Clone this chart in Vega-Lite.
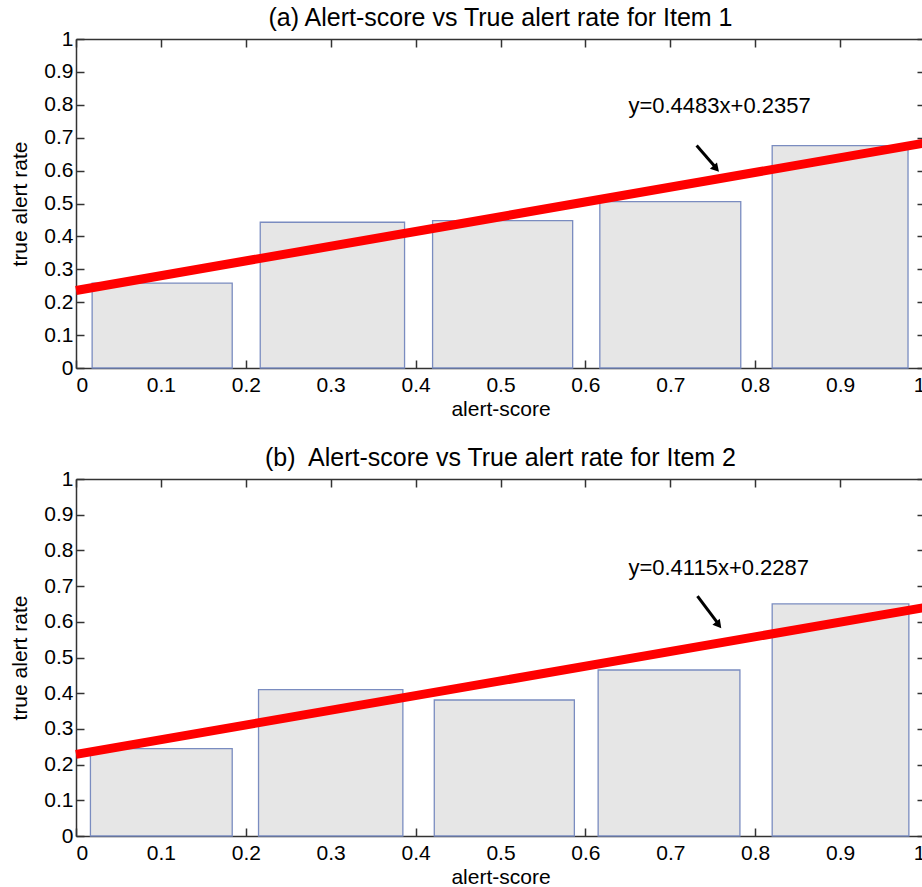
{
  "$schema": "https://vega.github.io/schema/vega-lite/v6.json",
  "background": "white",
  "padding": {"left": 9, "top": 6, "right": 0, "bottom": 0},
  "config": {
    "font": "Liberation Sans",
    "view": {"stroke": null},
    "axis": {
      "domainColor": "#333333", "tickColor": "#333333", "domainWidth": 1.5, "tickWidth": 1.5,
      "labelColor": "black", "titleColor": "black",
      "labelFont": "Liberation Sans", "titleFont": "Liberation Sans",
      "labelFontSize": 21, "titleFontSize": 21, "titleFontWeight": "normal",
      "grid": false, "tickSize": -8
    },
    "title": {"fontSize": 25, "fontWeight": "normal", "color": "black", "font": "Liberation Sans", "offset": -3, "frame": "group"},
    "concat": {"spacing": 27}
  },
  "vconcat": [
    {
      "width": 849, "height": 329,
      "title": {"text": "(a) Alert-score vs True alert rate for Item 1"},
      "layer": [
        {
          "encoding": {
            "x": {"field": "x", "type": "quantitative", "scale": {"domain": [0, 1], "nice": false}, "title": "alert-score",
                  "axis": {"orient": "bottom", "values": [0, 0.1, 0.2, 0.3, 0.4, 0.5, 0.6, 0.7, 0.8, 0.9, 1], "format": "~g", "labelPadding": 14, "titlePadding": 3}},
            "y": {"field": "y", "type": "quantitative", "scale": {"domain": [0, 1], "nice": false}, "title": "true alert rate",
                  "axis": {"orient": "left", "values": [0, 0.1, 0.2, 0.3, 0.4, 0.5, 0.6, 0.7, 0.8, 0.9, 1], "format": "~g", "labelPadding": 11, "titlePadding": 13}}
          },
          "layer": [
            {
              "data": {"values": [
                {"x": 0.019, "xe": 0.184, "y": 0.258},
                {"x": 0.217, "xe": 0.387, "y": 0.443},
                {"x": 0.420, "xe": 0.585, "y": 0.448},
                {"x": 0.617, "xe": 0.783, "y": 0.506},
                {"x": 0.820, "xe": 0.980, "y": 0.676}
              ]},
              "mark": {"type": "rect", "fill": "#e6e6e6", "stroke": "#7a8cc0", "strokeWidth": 1.3},
              "encoding": {"x2": {"field": "xe"}, "y2": {"datum": 0}}
            },
            {
              "data": {"values": [{"x": 0.758, "y": 0.795, "label": "y=0.4483x+0.2357"}]},
              "mark": {"type": "text", "fontSize": 22, "color": "black", "align": "center", "baseline": "middle"},
              "encoding": {"text": {"field": "label"}}
            },
            {
              "data": {"values": [{"x": 0.731, "y": 0.676, "xe": 0.754, "ye": 0.608}]},
              "mark": {"type": "rule", "color": "black", "strokeWidth": 3},
              "encoding": {"x2": {"field": "xe"}, "y2": {"field": "ye"}}
            },
            {
              "data": {"values": [{"x": 0.753, "y": 0.609}]},
              "mark": {"type": "point", "shape": "triangle", "filled": true, "color": "black", "opacity": 1, "size": 90, "angle": 138}
            }
          ]
        },
        {
          "data": {"values": [{"x": 0, "y": 0.2357}, {"x": 1, "y": 0.684}]},
          "mark": {"type": "line", "color": "#ff0000", "strokeWidth": 9},
          "encoding": {
            "x": {"field": "x", "type": "quantitative", "scale": {"domain": [0, 1], "nice": false},
                  "axis": {"orient": "top", "labels": false, "title": null, "values": [0, 0.1, 0.2, 0.3, 0.4, 0.5, 0.6, 0.7, 0.8, 0.9, 1]}},
            "y": {"field": "y", "type": "quantitative", "scale": {"domain": [0, 1], "nice": false},
                  "axis": {"orient": "right", "labels": false, "title": null, "values": [0, 0.1, 0.2, 0.3, 0.4, 0.5, 0.6, 0.7, 0.8, 0.9, 1]}}
          }
        }
      ],
      "resolve": {"axis": {"x": "independent", "y": "independent"}}
    },
    {
      "width": 849, "height": 357,
      "title": {"text": "(b)\u00a0 Alert-score vs True alert rate for Item 2"},
      "layer": [
        {
          "encoding": {
            "x": {"field": "x", "type": "quantitative", "scale": {"domain": [0, 1], "nice": false}, "title": "alert-score",
                  "axis": {"orient": "bottom", "values": [0, 0.1, 0.2, 0.3, 0.4, 0.5, 0.6, 0.7, 0.8, 0.9, 1], "format": "~g", "labelPadding": 14, "titlePadding": 3}},
            "y": {"field": "y", "type": "quantitative", "scale": {"domain": [0, 1], "nice": false}, "title": "true alert rate",
                  "axis": {"orient": "left", "values": [0, 0.1, 0.2, 0.3, 0.4, 0.5, 0.6, 0.7, 0.8, 0.9, 1], "format": "~g", "labelPadding": 11, "titlePadding": 13}}
          },
          "layer": [
            {
              "data": {"values": [
                {"x": 0.017, "xe": 0.184, "y": 0.245},
                {"x": 0.215, "xe": 0.385, "y": 0.410},
                {"x": 0.422, "xe": 0.587, "y": 0.381},
                {"x": 0.615, "xe": 0.782, "y": 0.465},
                {"x": 0.820, "xe": 0.981, "y": 0.650}
              ]},
              "mark": {"type": "rect", "fill": "#e6e6e6", "stroke": "#7a8cc0", "strokeWidth": 1.3},
              "encoding": {"x2": {"field": "xe"}, "y2": {"datum": 0}}
            },
            {
              "data": {"values": [{"x": 0.757, "y": 0.750, "label": "y=0.4115x+0.2287"}]},
              "mark": {"type": "text", "fontSize": 22, "color": "black", "align": "center", "baseline": "middle"},
              "encoding": {"text": {"field": "label"}}
            },
            {
              "data": {"values": [{"x": 0.732, "y": 0.672, "xe": 0.757, "ye": 0.593}]},
              "mark": {"type": "rule", "color": "black", "strokeWidth": 3},
              "encoding": {"x2": {"field": "xe"}, "y2": {"field": "ye"}}
            },
            {
              "data": {"values": [{"x": 0.756, "y": 0.594}]},
              "mark": {"type": "point", "shape": "triangle", "filled": true, "color": "black", "opacity": 1, "size": 90, "angle": 141}
            }
          ]
        },
        {
          "data": {"values": [{"x": 0, "y": 0.2287}, {"x": 1, "y": 0.6402}]},
          "mark": {"type": "line", "color": "#ff0000", "strokeWidth": 9},
          "encoding": {
            "x": {"field": "x", "type": "quantitative", "scale": {"domain": [0, 1], "nice": false},
                  "axis": {"orient": "top", "labels": false, "title": null, "values": [0, 0.1, 0.2, 0.3, 0.4, 0.5, 0.6, 0.7, 0.8, 0.9, 1]}},
            "y": {"field": "y", "type": "quantitative", "scale": {"domain": [0, 1], "nice": false},
                  "axis": {"orient": "right", "labels": false, "title": null, "values": [0, 0.1, 0.2, 0.3, 0.4, 0.5, 0.6, 0.7, 0.8, 0.9, 1]}}
          }
        }
      ],
      "resolve": {"axis": {"x": "independent", "y": "independent"}}
    }
  ]
}
